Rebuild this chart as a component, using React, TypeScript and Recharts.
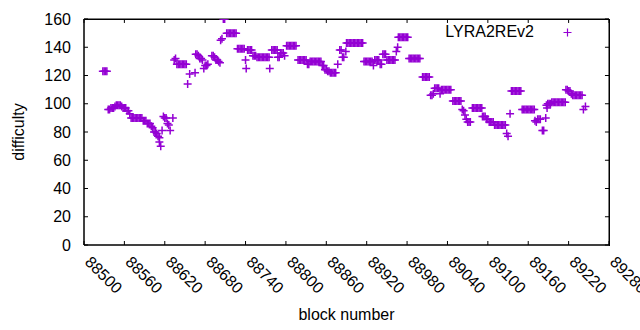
import React from 'react';
import { ScatterChart, Scatter, XAxis, YAxis, ReferenceArea, ReferenceLine } from 'recharts';

const SERIES_NAME = 'LYRA2REv2';
const PURPLE = '#9400d3';
const FONT = '"Liberation Sans", Arial, sans-serif';

const X_MIN = 88500;
const X_MAX = 89280;
const Y_MIN = 0;
const Y_MAX = 160;
const xTicks = [88500, 88560, 88620, 88680, 88740, 88800, 88860, 88920, 88980, 89040, 89100, 89160, 89220, 89280];
const yTicks = [0, 20, 40, 60, 80, 100, 120, 140, 160];

// mirrored tick length on top/right border, in data units (~4px)
const TOP_TICK_LEN = 2.8;
const RIGHT_TICK_LEN = 6;

// [block, difficulty]
const earlyBlocks: [number, number][] = [
  [88528, 123], [88530, 123], [88532, 123], [88534, 123],
  [88536, 96], [88538, 96], [88540, 97], [88542, 97], [88544, 97], [88546, 98],
  [88548, 99], [88550, 99], [88552, 99], [88554, 99], [88556, 98],
  [88558, 97], [88560, 97], [88562, 97],
  [88564, 95], [88566, 95], [88568, 93],
  [88570, 90], [88572, 90], [88574, 90], [88576, 90], [88578, 90], [88580, 90], [88582, 90], [88584, 90], [88586, 90],
  [88588, 88], [88590, 88], [88592, 88],
  [88594, 86], [88596, 86], [88598, 86],
  [88600, 84], [88602, 83],
  [88604, 80], [88606, 80], [88608, 79],
  [88610, 77], [88612, 76], [88612, 73], [88614, 70],
  [88616, 81], [88618, 91], [88620, 90], [88622, 90],
  [88624, 86], [88626, 85], [88628, 81], [88632, 90],
];

const plateauBlocks: [number, number][] = [
  [88634, 131], [88636, 132],
  [88638, 128], [88640, 128], [88642, 128], [88644, 128], [88646, 128], [88648, 128], [88650, 128], [88652, 128],
  [88654, 114], [88657, 121], [88665, 122],
  [88666, 135], [88668, 135], [88670, 134],
  [88672, 132], [88674, 132], [88676, 131], [88678, 125],
  [88680, 127], [88682, 127], [88684, 128],
  [88690, 134], [88692, 134], [88694, 133],
  [88696, 131], [88698, 131], [88700, 130], [88702, 129],
  [88703, 145], [88705, 146], [88707, 160], [88709, 160],
  [88712, 150], [88714, 150], [88716, 150], [88718, 150], [88720, 150], [88722, 150], [88724, 150], [88726, 150],
  [88728, 139], [88730, 139], [88732, 139], [88734, 139], [88736, 139], [88738, 139],
  [88740, 131], [88741, 125],
  [88743, 138], [88745, 138], [88747, 138], [88749, 138],
  [88751, 134], [88753, 134], [88755, 134],
  [88757, 133], [88759, 133], [88761, 133], [88763, 133], [88765, 133], [88767, 133], [88769, 133], [88771, 133], [88773, 133], [88775, 133],
  [88776, 125],
  [88779, 138], [88781, 138], [88783, 138], [88785, 138], [88787, 138],
  [88788, 133], [88790, 133],
  [88792, 136], [88794, 136], [88796, 136], [88798, 134],
  [88801, 141], [88803, 141], [88805, 141], [88807, 141], [88809, 141], [88811, 141], [88813, 141], [88815, 141],
  [88818, 131], [88820, 131], [88822, 131], [88824, 131], [88826, 131], [88828, 131], [88830, 131],
  [88832, 128], [88834, 128],
  [88836, 130], [88838, 130], [88840, 130], [88842, 130], [88844, 130], [88846, 130], [88848, 130], [88850, 130], [88852, 130],
  [88854, 127], [88856, 127],
  [88858, 124], [88860, 124], [88862, 123], [88864, 123], [88866, 122], [88868, 122], [88870, 122], [88872, 122], [88874, 122],
  [88877, 128], [88880, 138], [88882, 138], [88884, 133], [88886, 133], [88889, 137],
];

const peakBlocks: [number, number][] = [
  [88890, 143], [88892, 143], [88894, 143], [88896, 143], [88898, 143], [88900, 143], [88902, 143],
  [88904, 143], [88906, 143], [88908, 143], [88910, 143], [88912, 143], [88914, 143],
  [88916, 130], [88918, 130], [88920, 130], [88922, 130], [88924, 130], [88926, 130], [88928, 130],
  [88930, 127],
  [88932, 131], [88934, 131], [88936, 131], [88938, 131],
  [88940, 128], [88942, 128],
  [88944, 135], [88946, 135], [88948, 135],
  [88950, 131], [88952, 131], [88954, 131], [88956, 131], [88958, 131], [88960, 131], [88962, 131],
  [88964, 137], [88966, 140],
  [88967, 147], [88969, 147], [88971, 147], [88973, 147], [88975, 147], [88977, 147], [88979, 147], [88981, 147],
  [88983, 132], [88985, 132], [88987, 132], [88989, 132], [88991, 132], [88993, 132], [88995, 132], [88997, 132], [88999, 132],
];

const dipBlocks: [number, number][] = [
  [89003, 119], [89005, 119], [89007, 119], [89009, 119], [89011, 119], [89013, 119],
  [89015, 106], [89017, 106], [89019, 107],
  [89021, 111], [89023, 111], [89025, 111], [89027, 111],
  [89029, 107],
  [89031, 110], [89033, 110], [89035, 110], [89037, 110], [89039, 110], [89041, 110], [89043, 110], [89045, 110],
  [89048, 102], [89050, 102], [89052, 102], [89054, 102], [89056, 102], [89058, 102], [89060, 102],
  [89062, 96], [89064, 95], [89066, 92], [89068, 89],
  [89070, 87], [89072, 87], [89074, 87],
  [89077, 97], [89079, 97], [89081, 97], [89083, 97], [89085, 97], [89087, 97], [89089, 97], [89091, 97],
  [89092, 91], [89094, 91], [89096, 91],
  [89098, 89], [89100, 89],
  [89102, 87], [89104, 87], [89106, 87], [89108, 87],
  [89110, 85], [89112, 85], [89114, 85], [89116, 85], [89118, 85], [89120, 85], [89122, 85], [89124, 85], [89126, 85],
  [89128, 79], [89130, 77], [89133, 93],
  [89135, 109], [89137, 109], [89139, 109], [89141, 109], [89143, 109], [89145, 109], [89147, 109], [89149, 109],
  [89151, 96], [89153, 96], [89155, 96], [89157, 96], [89159, 96], [89161, 96], [89163, 96], [89165, 96], [89167, 96], [89169, 96],
  [89170, 88], [89172, 87],
  [89174, 89], [89176, 89], [89178, 89],
  [89181, 81], [89183, 81], [89186, 90],
  [89187, 99], [89188, 97], [89189, 100], [89191, 100], [89193, 100],
  [89195, 101], [89197, 101], [89199, 101], [89201, 101], [89203, 101], [89205, 101], [89207, 101], [89209, 101], [89211, 101], [89213, 101], [89215, 101],
  [89216, 110], [89218, 110], [89220, 109], [89222, 109],
  [89224, 107], [89226, 106], [89228, 106], [89230, 106], [89232, 106], [89234, 106], [89236, 106], [89238, 106], [89240, 106],
  [89242, 96], [89245, 98],
];

const points = [...earlyBlocks, ...plateauBlocks, ...peakBlocks, ...dipBlocks].map(([block, difficulty]) => ({
  block,
  difficulty,
}));

const Cross = (props: any) => {
  const { cx, cy } = props;
  return (
    <path
      d={`M${cx - 4},${cy}H${cx + 4}M${cx},${cy - 4}V${cy + 4}`}
      stroke={PURPLE}
      strokeWidth={1.5}
      fill="none"
    />
  );
};

const BottomTick = ({ x, y, payload }: any) => (
  <g>
    <line x1={x} y1={y} x2={x} y2={y - 4} stroke="#000" />
    <text x={x} y={y + 18} transform={`rotate(45, ${x}, ${y + 18})`} fontSize={16} fill="#000" fontFamily={FONT}>
      {payload.value}
    </text>
  </g>
);

const LeftTick = ({ x, y, payload }: any) => (
  <g>
    <line x1={x} y1={y} x2={x + 4} y2={y} stroke="#000" />
    <text x={x - 13} y={y} dy="0.35em" textAnchor="end" fontSize={16} fill="#000" fontFamily={FONT}>
      {payload.value}
    </text>
  </g>
);

const KeyBox = () => (
  <div
    style={{
      position: 'absolute',
      left: 440,
      top: 20,
      width: 150,
      height: 24,
      fontFamily: FONT,
      fontSize: 16,
      color: '#000',
    }}
  >
    <span style={{ position: 'absolute', right: 56, top: 0, lineHeight: '24px', whiteSpace: 'nowrap' }}>{SERIES_NAME}</span>
    <svg width={9} height={9} style={{ position: 'absolute', left: 123, top: 8 }}>
      <path d="M0.5,4.5H8.5M4.5,0.5V8.5" stroke={PURPLE} strokeWidth={1.2} fill="none" />
    </svg>
  </div>
);

// top and right edges of the plot frame, sitting under the svg
const FrameEdges = () => (
  <div
    style={{
      position: 'absolute',
      left: 84,
      top: 19,
      width: 526,
      height: 227,
      boxSizing: 'border-box',
      borderTop: '1px solid #000',
      borderRight: '1px solid #000',
      pointerEvents: 'none',
    }}
  />
);

export default function App() {
  return (
    <div style={{ position: 'relative', width: 640, height: 330, fontFamily: FONT }}>
      <style>{'body{margin:0}'}</style>
      <FrameEdges />
      <div style={{ position: 'absolute', left: 0, top: 0 }}>
        <ScatterChart width={640} height={330} margin={{ top: 19, right: 31, bottom: 0, left: 0 }}>
          <XAxis
            type="number"
            dataKey="block"
            domain={[X_MIN, X_MAX]}
            ticks={xTicks}
            allowDataOverflow
            height={85}
            tickSize={0}
            tickMargin={0}
            tickLine={false}
            interval={0}
            axisLine={{ stroke: '#000' }}
            tick={<BottomTick />}
            label={{ value: 'block number', position: 'insideBottom', offset: 10, fontSize: 16, fill: '#000' }}
          />
          <YAxis
            type="number"
            dataKey="difficulty"
            domain={[Y_MIN, Y_MAX]}
            ticks={yTicks}
            allowDataOverflow
            width={84}
            tickSize={0}
            tickMargin={0}
            tickLine={false}
            interval={0}
            axisLine={{ stroke: '#000' }}
            tick={<LeftTick />}
            label={{
              value: 'difficulty',
              angle: -90,
              position: 'insideLeft',
              offset: 18,
              fontSize: 16,
              fill: '#000',
              style: { textAnchor: 'middle' },
            }}
          />
          <ReferenceArea
            x1={X_MIN}
            x2={X_MAX}
            y1={Y_MIN}
            y2={Y_MAX}
            fill="none"
            stroke="#000"
            strokeWidth={1}
            ifOverflow="visible"
          />
          {xTicks.map((t) => (
            <ReferenceLine
              key={`tx${t}`}
              segment={[{ x: t, y: Y_MAX }, { x: t, y: Y_MAX - TOP_TICK_LEN }]}
              stroke="#000"
              ifOverflow="visible"
            />
          ))}
          {yTicks.map((t) => (
            <ReferenceLine
              key={`ty${t}`}
              segment={[{ x: X_MAX, y: t }, { x: X_MAX - RIGHT_TICK_LEN, y: t }]}
              stroke="#000"
              ifOverflow="visible"
            />
          ))}
          <Scatter
            name={SERIES_NAME}
            data={points}
            fill={PURPLE}
            shape={<Cross />}
            isAnimationActive={false}
          />
        </ScatterChart>
      </div>
      <KeyBox />
    </div>
  );
}
